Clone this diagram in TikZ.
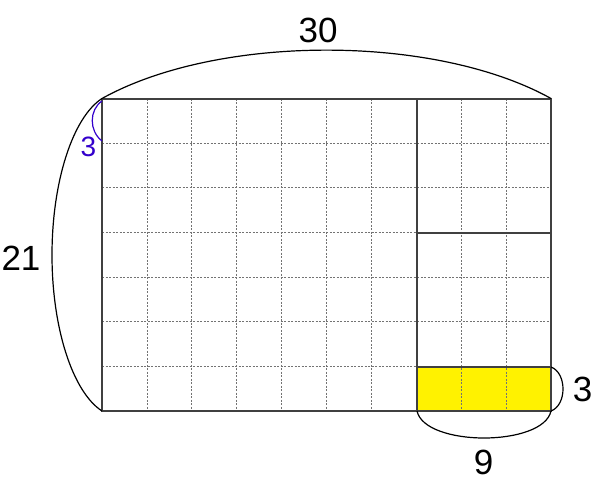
\documentclass[tikz,border=0pt]{standalone}
\usepackage{fontspec}
\setmainfont{Liberation Sans}
\begin{document}
\begin{tikzpicture}[x=1pt,y=-1pt,
  gridline/.style={draw=black!55, line width=0.8pt, dash pattern=on 2pt off 1.5pt},
  boxline/.style={draw=black!75, line width=2pt},
  arcline/.style={draw=black, line width=1.2pt},
  bluearc/.style={draw=blue!80!red, line width=1.2pt},
  lbl/.style={font=\fontsize{35}{40}\selectfont, inner sep=0pt},
  bluelbl/.style={font=\fontsize{28}{32}\selectfont, inner sep=0pt, text=blue!80!red}]
\useasboundingbox (0,0) rectangle (604,495);
% corners
\coordinate (TL) at (102,98.5);
\coordinate (TM) at (417,98.5);
\coordinate (TR) at (551,98.5);
\coordinate (BL) at (102,411);
\coordinate (BM) at (417,411);
\coordinate (BR) at (551,411);
\coordinate (R1l) at (417,233);
\coordinate (R1r) at (551,233);
\coordinate (R2l) at (417,367);
\coordinate (R2r) at (551,367);
\coordinate (B1) at (102,101);
\coordinate (B2) at (102,141);
\coordinate (LM) at (52,255);
% yellow
\fill[yellow] (R2l) rectangle (BR);
% dashed grid
\foreach \k in {1,...,9} {
  \draw[gridline] ({102+\k*44.9},98.5) -- ({102+\k*44.9},411);
}
\foreach \k in {1,...,6} {
  \draw[gridline] (102,{98.5+\k*44.64}) -- (551,{98.5+\k*44.64});
}
% boxes
\draw[boxline] (TL) rectangle (BM);
\draw[boxline] (TM) rectangle (BR);
\draw[boxline] (R1l) -- (R1r);
\draw[boxline] (R2l) -- (R2r);
% arcs
\draw[arcline] (TL) .. controls (218,34) and (435,34) .. (TR);
\draw[arcline] (TL) .. controls (72.7,117.5) and (52,181.7) .. (LM)
                    .. controls (52,328.3) and (72.7,392) .. (BL);
\draw[arcline] (R2r) .. controls (567,373) and (567,405) .. (BR);
\draw[arcline] (BM) .. controls (425,447) and (543,447) .. (BR);
\draw[bluearc] (B1) .. controls (89,110) and (89,131) .. (B2);
% labels
\node[lbl] (l30) at (318,30) {30};
\node[lbl] (l21) at (21,258) {21};
\node[lbl] (l3r) at (582.5,389) {3};
\node[lbl] (l9) at (483.5,462.5) {9};
\node[bluelbl] (l3b) at (88.5,147) {3};
\end{tikzpicture}
\end{document}
